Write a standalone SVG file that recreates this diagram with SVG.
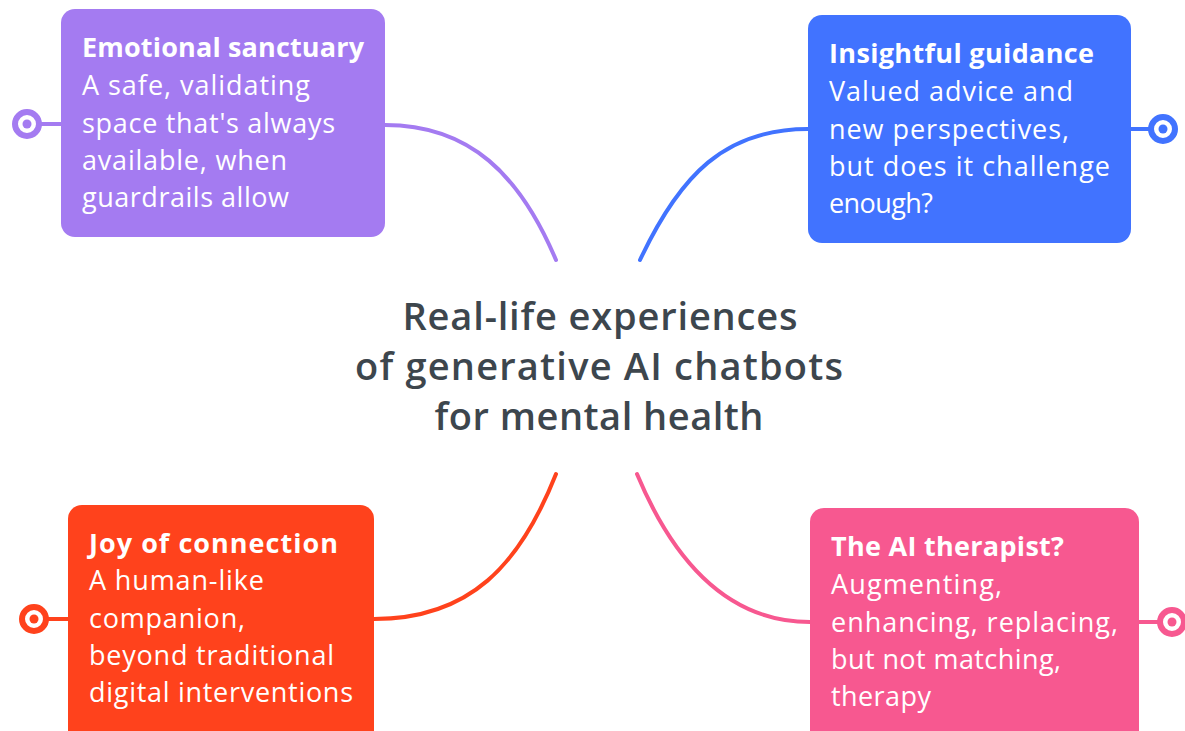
<svg xmlns="http://www.w3.org/2000/svg" width="1185" height="731" viewBox="0 0 1185 731">
  <style>
    .box { stroke: none; }
    .title { font-family: "Open Sans", "Noto Sans", sans-serif; font-weight: 700; font-size: 27px; fill: #ffffff; }
    .body { font-family: "Open Sans", "Noto Sans", sans-serif; font-weight: 400; font-size: 27px; fill: #ffffff; }
    .center { font-family: "Open Sans", "Noto Sans", sans-serif; font-weight: 600; font-size: 38px; fill: #3d464d; text-anchor: middle; }
    .link { fill: none; stroke-width: 4; stroke-linecap: round; }
    .ring { fill: #ffffff; stroke-width: 6; }
  </style>
  <rect width="1185" height="731" fill="#ffffff"/>

  <!-- curved connectors from the central topic to each branch -->
  <g id="connectors">
    <path class="link" stroke="#A47BF1" d="M556,260 C520,175 470,125 385,125"/>
    <path class="link" stroke="#4173FF" d="M640,260 C680,175 725,129 808,129"/>
    <path class="link" stroke="#FF421C" d="M556,474 C520,565 470,619 374,619"/>
    <path class="link" stroke="#F75890" d="M637,474 C675,565 730,622 810,622"/>
  </g>

  <g id="central-topic">
    <text class="center" x="600" y="330" textLength="395">Real-life experiences</text>
    <text class="center" x="599" y="380" textLength="488">of generative AI chatbots</text>
    <text class="center" x="599" y="430" textLength="329">for mental health</text>
  </g>

  <g id="emotional-sanctuary">
    <line x1="40" y1="124" x2="61" y2="124" stroke="#A47BF1" stroke-width="4"/>
    <circle class="ring" cx="27" cy="124" r="12" stroke="#A47BF1"/>
    <circle cx="27" cy="124" r="4.5" fill="#A47BF1"/>
    <rect class="box" x="61" y="9" width="324" height="228" rx="14" fill="#A47BF1"/>
    <text class="title" x="82" y="57" textLength="282">Emotional sanctuary</text>
    <text class="body" x="82" y="95" textLength="228">A safe, validating</text>
    <text class="body" x="82" y="133" textLength="253">space that's always</text>
    <text class="body" x="82" y="170" textLength="205">available, when</text>
    <text class="body" x="82" y="207" textLength="207">guardrails allow</text>
  </g>

  <g id="insightful-guidance">
    <line x1="1131" y1="129" x2="1150" y2="129" stroke="#4173FF" stroke-width="4"/>
    <circle class="ring" cx="1163" cy="129" r="12" stroke="#4173FF"/>
    <circle cx="1163" cy="129" r="4.5" fill="#4173FF"/>
    <rect class="box" x="808" y="15" width="323" height="228" rx="14" fill="#4173FF"/>
    <text class="title" x="829" y="63" textLength="265">Insightful guidance</text>
    <text class="body" x="829" y="101" textLength="244">Valued advice and</text>
    <text class="body" x="829" y="139" textLength="240">new perspectives,</text>
    <text class="body" x="829" y="176" textLength="281">but does it challenge</text>
    <text class="body" x="829" y="213" textLength="104">enough?</text>
  </g>

  <g id="joy-of-connection">
    <line x1="47" y1="619" x2="68" y2="619" stroke="#FF421C" stroke-width="4"/>
    <circle class="ring" cx="34" cy="619" r="12" stroke="#FF421C"/>
    <circle cx="34" cy="619" r="4.5" fill="#FF421C"/>
    <rect class="box" x="68" y="505" width="306" height="240" rx="14" fill="#FF421C"/>
    <text class="title" x="89" y="553" textLength="249">Joy of connection</text>
    <text class="body" x="89" y="590" textLength="175">A human-like</text>
    <text class="body" x="89" y="628" textLength="156">companion,</text>
    <text class="body" x="89" y="665" textLength="245">beyond traditional</text>
    <text class="body" x="89" y="702" textLength="264">digital interventions</text>
  </g>

  <g id="ai-therapist">
    <line x1="1139" y1="622" x2="1159" y2="622" stroke="#F75890" stroke-width="4"/>
    <circle class="ring" cx="1172" cy="622" r="12" stroke="#F75890"/>
    <circle cx="1172" cy="622" r="4.5" fill="#F75890"/>
    <rect class="box" x="810" y="508" width="329" height="240" rx="14" fill="#F75890"/>
    <text class="title" x="831" y="556" textLength="233">The AI therapist?</text>
    <text class="body" x="831" y="594" textLength="171">Augmenting,</text>
    <text class="body" x="831" y="632" textLength="287">enhancing, replacing,</text>
    <text class="body" x="831" y="669" textLength="230">but not matching,</text>
    <text class="body" x="831" y="706" textLength="100">therapy</text>
  </g>
</svg>
